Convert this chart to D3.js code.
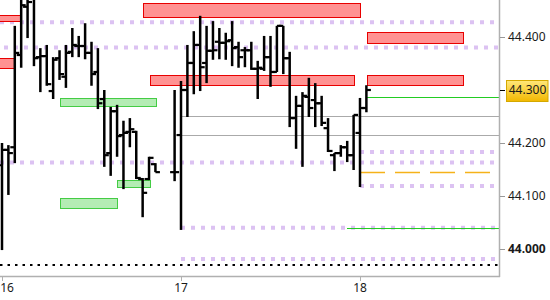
<!DOCTYPE html>
<html><head><meta charset="utf-8">
<script src="https://cdn.jsdelivr.net/npm/d3@7"></script>
<style>
html,body{margin:0;padding:0;background:#fff;}
svg{display:block;}
text{font-family:"Noto Sans",sans-serif;}
</style></head>
<body><svg id="c" width="550" height="300"></svg>
<script>
// ---- data ----
const barIdx = [0,1,2,3,4,5,6,7,8,9,10,11,12,13,14,15,16,17,18,19,20,21,22,23,24,
  27,28,29,30,31,32,33,34,35,36,37,38,39,40,41,42,43,44,45,46,47,48,49,50,51,52,53,54,55,56,57];
const opens = [44.158,44.187,44.192,44.366,44.457,44.472,44.362,44.364,44.298,44.360,44.325,44.372,44.383,44.383,44.370,44.334,44.283,44.181,44.260,44.215,44.221,44.221,44.132,44.132,44.160,
  44.145,44.215,44.300,44.351,44.385,44.351,44.374,44.391,44.389,44.394,44.381,44.375,44.375,44.340,44.340,44.362,44.334,44.421,44.360,44.247,44.270,44.287,44.281,44.275,44.228,44.177,44.181,44.192,44.177,44.219,44.266];
const highs = [44.200,44.196,44.421,44.475,44.480,44.480,44.379,44.385,44.362,44.375,44.385,44.417,44.402,44.426,44.391,44.379,44.300,44.268,44.272,44.242,44.247,44.223,44.134,44.174,44.162,
  44.300,44.317,44.385,44.411,44.440,44.421,44.430,44.417,44.408,44.430,44.391,44.381,44.391,44.355,44.402,44.402,44.421,44.421,44.372,44.289,44.296,44.323,44.313,44.289,44.247,44.181,44.196,44.204,44.253,44.285,44.309];
const lows = [43.998,44.102,44.162,44.342,44.398,44.345,44.296,44.308,44.283,44.319,44.304,44.362,44.362,44.358,44.308,44.264,44.155,44.138,44.174,44.113,44.192,44.132,44.060,44.130,44.145,
  44.128,44.036,44.249,44.292,44.298,44.313,44.357,44.358,44.357,44.345,44.342,44.343,44.338,44.283,44.336,44.306,44.334,44.330,44.230,44.189,44.155,44.249,44.230,44.232,44.183,44.147,44.174,44.164,44.149,44.117,44.258];
const closes = [44.187,44.181,44.370,44.460,44.466,44.360,44.364,44.311,44.357,44.330,44.370,44.385,44.383,44.370,44.330,44.275,44.177,44.260,44.213,44.219,44.226,44.134,44.106,44.172,44.145,
  44.145,44.300,44.351,44.385,44.343,44.374,44.375,44.389,44.392,44.379,44.362,44.375,44.340,44.342,44.362,44.334,44.421,44.360,44.247,44.270,44.289,44.266,44.275,44.238,44.185,44.181,44.192,44.177,44.253,44.266,44.300];

const dayLabels = ["16","17","18"];
const dayIdx = [0,28,56];
const yTicks = [44.0,44.1,44.2,44.3,44.4];
const lastPrice = 44.3;

// supply (red) and demand (green) zones: [startIdx, endIdx, top, bottom]
const redZones = [
  [22.06,56.0,44.4636,44.4372],
  [-0.5,2.97,44.442,44.431],
  [-0.5,2.03,44.360,44.342],
  [23.15,55.06,44.328,44.309],
  [57.1,72.1,44.409,44.388],
  [57.1,72.1,44.328,44.309]
];
const greenZones = [
  [9.12,24.2,44.284,44.268],
  [9.12,18.1,44.096,44.078],
  [18.04,23.26,44.130,44.1175]
];
// dotted purple levels: [price, startIdx]
const purpleLevels = [[44.428,-0.31],[44.380,0.31],[44.163,-0.31],[44.183,56],[44.119,56],[44.040,28],[43.981,28]];
const greyLevels = [44.251,44.2145];
const greenLevels = [[44.2874,56.95],[44.040,54]];
const orangeLevel = [44.1447,56,76.4];
const blackDotLevel = 43.970;

// ---- chart ----
const W = 550, H = 300, plotR = 499, plotB = 276;
const svg = d3.select("#c");
const x = d3.scaleLinear().domain([0,56]).range([2,360]);
const y = d3.scaleLinear().domain([44.0,44.4]).range([249,37]);
const xEnd = x.invert(plotR);
const defs = svg.append("defs");
defs.append("clipPath").attr("id","clip")
  .append("rect").attr("x",0).attr("y",0).attr("width",plotR).attr("height",plotB);
const g = svg.append("g").attr("clip-path","url(#clip)");

// purple dotted levels
g.selectAll(".pl").data(purpleLevels).join("line")
  .attr("x1",d=>x(d[1])).attr("x2",x(xEnd)).attr("y1",d=>y(d[0])).attr("y2",d=>y(d[0]))
  .attr("stroke","#dcc2f2").attr("stroke-width",4).attr("stroke-dasharray","4,6");

// black dotted
g.append("line").attr("x1",0).attr("x2",plotR).attr("y1",y(blackDotLevel)).attr("y2",y(blackDotLevel))
  .attr("stroke","#000").attr("stroke-width",2).attr("stroke-dasharray","2.5,5");

// grey levels
g.selectAll(".gl").data(greyLevels).join("line")
  .attr("x1",x(28)).attr("x2",plotR).attr("y1",d=>Math.round(y(d))+0.5).attr("y2",d=>Math.round(y(d))+0.5)
  .attr("stroke","#aaaaaa").attr("stroke-width",1);

// zones
function zones(data, fill, stroke){
  g.selectAll(null).data(data).join("rect")
    .attr("x",d=>Math.round(x(d[0]))+0.5).attr("y",d=>Math.round(y(d[2]))+0.5)
    .attr("width",d=>Math.round(x(d[1])-x(d[0])))
    .attr("height",d=>Math.round(y(d[3])-y(d[2])))
    .attr("fill",fill).attr("stroke",stroke).attr("stroke-width",1);
}
zones(redZones,"#ff9292","#e80000");
zones(greenZones,"#b4ecb4","#44cc44");

// green levels
g.selectAll(".gr").data(greenLevels).join("line")
  .attr("x1",d=>x(d[1])).attr("x2",plotR).attr("y1",d=>Math.round(y(d[0]))+0.5).attr("y2",d=>Math.round(y(d[0]))+0.5)
  .attr("stroke","#22cc22").attr("stroke-width",1.2).attr("shape-rendering","crispEdges");

// orange dashed
g.append("line").attr("x1",x(orangeLevel[1])).attr("x2",x(orangeLevel[2]))
  .attr("y1",Math.round(y(orangeLevel[0]))+0.5).attr("y2",Math.round(y(orangeLevel[0]))+0.5)
  .attr("stroke","#f5b21a").attr("stroke-width",1.3).attr("stroke-dasharray","25,10");

// OHLC bars
const bars = barIdx.map((i,k)=>({i,o:opens[k],h:highs[k],l:lows[k],c:closes[k]}));
const bg = g.append("g").attr("stroke","#000");
bg.selectAll(".hl").data(bars).join("line")
  .attr("x1",d=>x(d.i)).attr("x2",d=>x(d.i)).attr("y1",d=>y(d.h)).attr("y2",d=>y(d.l))
  .attr("stroke-width",2.5);
bg.selectAll(".op").data(bars).join("line")
  .attr("x1",d=>x(d.i)-4.5).attr("x2",d=>x(d.i)).attr("y1",d=>y(d.o)).attr("y2",d=>y(d.o))
  .attr("stroke-width",2.2);
bg.selectAll(".cl").data(bars).join("line")
  .attr("x1",d=>x(d.i)).attr("x2",d=>x(d.i)+4.5).attr("y1",d=>y(d.c)).attr("y2",d=>y(d.c))
  .attr("stroke-width",2.2);

// axes frame
svg.append("line").attr("x1",plotR+0.5).attr("x2",plotR+0.5).attr("y1",0).attr("y2",plotB+1)
  .attr("stroke","#b0b0b0").attr("stroke-width",1.5);
svg.append("line").attr("x1",0).attr("x2",plotR+1).attr("y1",plotB+0.5).attr("y2",plotB+0.5)
  .attr("stroke","#b0b0b0").attr("stroke-width",1.5);

// last price box (drawn under labels)
const grad = defs.append("linearGradient").attr("id","gold").attr("x1",0).attr("x2",0).attr("y1",0).attr("y2",1);
grad.append("stop").attr("offset","0%").attr("stop-color","#ffe77a");
grad.append("stop").attr("offset","100%").attr("stop-color","#f2b800");
svg.append("rect").attr("x",506.5).attr("y",Math.round(y(lastPrice))-9.5).attr("width",41.5).attr("height",21)
  .attr("fill","url(#gold)").attr("stroke","#d4a800").attr("stroke-width",1);

// y ticks & labels
const fmt = d3.format(".3f");
const isLast = d => Math.abs(d-lastPrice)<1e-9;
const yt = svg.append("g");
yt.selectAll("line").data(yTicks).join("line")
  .attr("x1",plotR+1).attr("x2",plotR+6).attr("y1",d=>Math.round(y(d))+0.5).attr("y2",d=>Math.round(y(d))+0.5)
  .attr("stroke",d=>isLast(d)?"#000":"#999").attr("stroke-width",1);
yt.selectAll("text").data(yTicks).join("text")
  .attr("x",d=>isLast(d)?527.5:508).attr("y",d=>y(d)).attr("dy","0.36em")
  .attr("text-anchor",d=>isLast(d)?"middle":"start")
  .attr("font-size",12).attr("fill","#1a1a1a")
  .attr("font-weight",d=>d===44.0?"bold":"normal")
  .text(d=>fmt(d));

// x ticks & labels
const xt = svg.append("g");
xt.selectAll("line").data(dayIdx).join("line")
  .attr("x1",d=>Math.round(x(d))+0.5).attr("x2",d=>Math.round(x(d))+0.5).attr("y1",plotB+1).attr("y2",plotB+5)
  .attr("stroke","#b0b0b0").attr("stroke-width",1);
xt.selectAll("text").data(dayIdx).join("text")
  .attr("x",d=>Math.max(x(d),7)).attr("y",292).attr("text-anchor","middle")
  .attr("font-size",12).attr("fill","#1a1a1a")
  .text((d,k)=>dayLabels[k]);
</script>
</body></html>
